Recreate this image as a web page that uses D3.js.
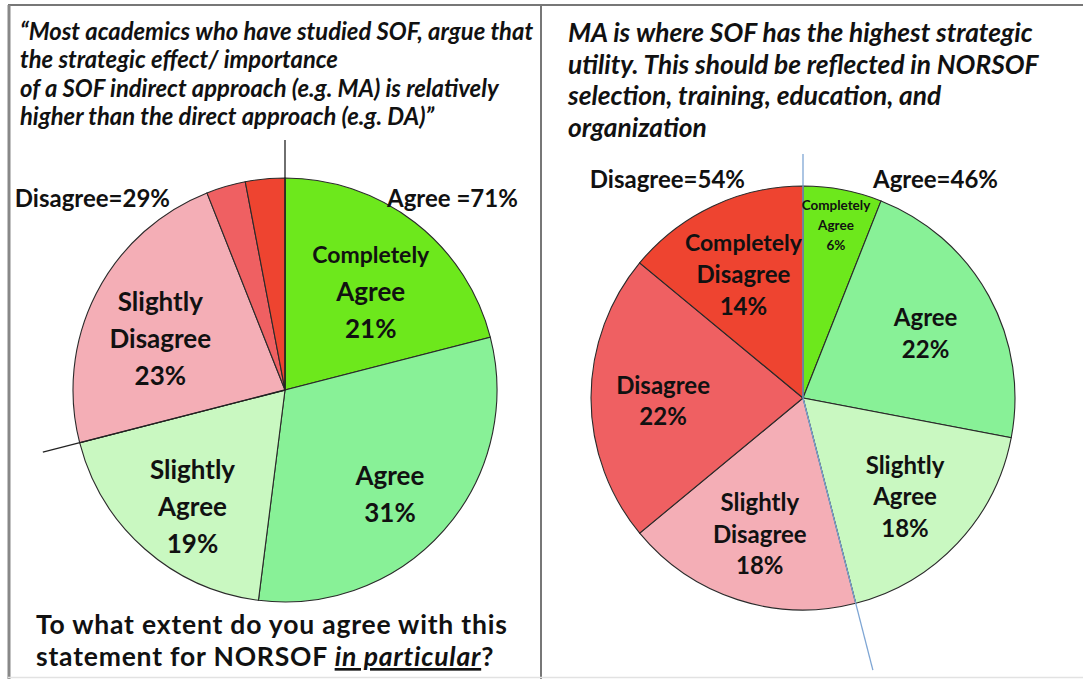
<!DOCTYPE html>
<html>
<head>
<meta charset="utf-8">
<script src="https://cdn.jsdelivr.net/npm/d3@7"></script>
<style>
  html, body { margin: 0; padding: 0; background: #fff; }
  svg { display: block; font-family: Lato, "Open Sans", sans-serif; }
</style>
</head>
<body>
<svg id="chart" width="1083" height="679"></svg>
<script>
// answer categories, clockwise from 12 o'clock
const categories = ["Completely Agree", "Agree", "Slightly Agree", "Slightly Disagree", "Disagree", "Completely Disagree"];
// left: indirect approach statement (NORSOF)
const indirectValues = [21, 31, 19, 23, 3, 3];
// right: MA highest strategic utility
const maValues = [6, 22, 18, 18, 22, 14];

const leftTitle = [
  "\u201CMost academics who have studied SOF, argue that",
  "the strategic effect/ importance",
  "of a SOF indirect approach (e.g. MA) is relatively",
  "higher than the direct approach (e.g. DA)\u201D"
];
const rightTitle = [
  "MA is where SOF has the highest strategic",
  "utility. This should be reflected in NORSOF",
  "selection, training, education, and",
  "organization"
];

const color = d3.scaleOrdinal(categories,
  ["#6de81c", "#88f197", "#c9f8c1", "#f4aeb6", "#ef6062", "#ee4430"]);

const svg = d3.select("#chart");

// frame
const frame = svg.append("g").attr("fill", "none");
frame.append("line").attr("x1", 8).attr("x2", 1083).attr("y1", 5).attr("y2", 5)
  .attr("stroke", "#777").attr("stroke-width", 2);
frame.append("line").attr("x1", 9).attr("x2", 9).attr("y1", 5).attr("y2", 679)
  .attr("stroke", "#888").attr("stroke-width", 3);
frame.append("line").attr("x1", 541).attr("x2", 541).attr("y1", 5).attr("y2", 679)
  .attr("stroke", "#777").attr("stroke-width", 2);
frame.append("line").attr("x1", 8).attr("x2", 1083).attr("y1", 677.5).attr("y2", 677.5)
  .attr("stroke", "#e2e2e2").attr("stroke-width", 1.5);

function drawPie(opt) {
  const g = svg.append("g").attr("transform", `translate(${opt.cx},${opt.cy})`);
  const total = d3.sum(opt.values);
  const pie = d3.pie().sort(null).value(d => d.value);
  const arcs = pie(categories.map((c, i) => ({ cat: c, value: opt.values[i] })));
  const arc = d3.arc().innerRadius(0).outerRadius(opt.r);

  g.selectAll("path.slice")
    .data(arcs)
    .enter()
    .append("path")
    .attr("class", "slice")
    .attr("d", arc)
    .attr("fill", d => color(d.data.cat))
    .attr("stroke", "#2a2a2a")
    .attr("stroke-width", 1.1);

  // split lines: agree / disagree
  const agreeShare = d3.sum(opt.values.slice(0, 3)) / total;
  [[0, opt.lineTop], [agreeShare * 2 * Math.PI, opt.lineBottom]].forEach(([a, len]) => {
    g.append("line")
      .attr("x1", 0).attr("y1", 0)
      .attr("x2", Math.sin(a) * len).attr("y2", -Math.cos(a) * len)
      .attr("stroke", opt.lineColor).attr("stroke-width", 1.3);
  });

  // slice labels
  arcs.filter(d => d.data.value > 5).forEach(d => {
    const small = d.data.value < 10;
    const lr = small ? opt.r * 0.83 : opt.r * 0.66;
    const [x, y0] = d3.arc().innerRadius(lr).outerRadius(lr).centroid(d);
    const y = y0 + (small ? 0 : opt.labelDy);
    const lines = d.data.cat.split(" ").concat([d.data.value + "%"]);
    const lh = small ? 20 : opt.lineH;
    const t = g.append("text").attr("text-anchor", "middle").attr("font-weight", 700).attr("fill", "#111");
    lines.forEach((ln, i) => {
      const fs = small ? 13.5 : (ln === "Completely" ? opt.smallFs : opt.fs);
      t.append("tspan")
        .attr("x", x)
        .attr("y", y + (i - (lines.length - 1) / 2) * lh + fs * 0.36)
        .attr("font-size", fs)
        .text(ln);
    });
  });

  // summary labels
  const agreePct = Math.round(agreeShare * 100);
  g.append("text").attr("x", opt.agreeX).attr("y", opt.sumY)
    .attr("font-size", opt.sumFs).attr("font-weight", 700).attr("fill", "#111")
    .text(opt.agreePrefix + agreePct + "%");
  g.append("text").attr("x", opt.disX).attr("y", opt.sumY)
    .attr("text-anchor", "end")
    .attr("font-size", opt.sumFs).attr("font-weight", 700).attr("fill", "#111")
    .text("Disagree=" + (100 - agreePct) + "%");
}

function drawTitle(lines, x, y0, step, fs) {
  const t = svg.append("text").attr("font-style", "italic").attr("font-weight", 700)
    .attr("font-size", fs).attr("fill", "#111");
  lines.forEach((ln, i) => {
    t.append("tspan").attr("x", x).attr("y", y0 + i * step).text(ln);
  });
}

drawTitle(leftTitle, 20, 40, 28.4, 23.8);
drawTitle(rightTitle, 568, 42, 31.6, 26.3);

drawPie({
  values: indirectValues, cx: 285, cy: 390, r: 212,
  lineColor: "#222", lineTop: 250, lineBottom: 250,
  fs: 26, smallFs: 23, lineH: 37, labelDy: 12,
  agreePrefix: "Agree =", agreeX: 102, disX: -115, sumY: -183, sumFs: 24
});

drawPie({
  values: maValues, cx: 803, cy: 398, r: 212,
  lineColor: "#7fa6d4", lineTop: 244, lineBottom: 281,
  fs: 24, smallFs: 23, lineH: 31.5, labelDy: 3,
  agreePrefix: "Agree=", agreeX: 70, disX: -58, sumY: -210, sumFs: 24
});

// bottom question
const qFs = 26.5;
const q = svg.append("text").attr("font-size", qFs).attr("font-weight", 700)
  .attr("letter-spacing", 0.8).attr("fill", "#111");
q.append("tspan").attr("x", 36).attr("y", 634).text("To what extent do you agree with this");
const q2 = svg.append("text").attr("font-size", qFs).attr("font-weight", 700)
  .attr("letter-spacing", 0.8).attr("fill", "#111")
  .attr("x", 36).attr("y", 666);
q2.append("tspan").text("statement for NORSOF ");
q2.append("tspan").attr("font-style", "italic").attr("text-decoration", "underline").text("in particular");
q2.append("tspan").text("?");
</script>
</body>
</html>
